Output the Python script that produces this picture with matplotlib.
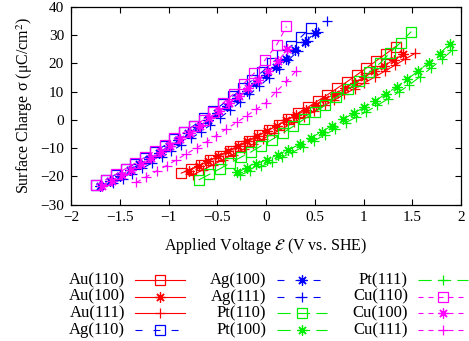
from matplotlib import pyplot as plt
import numpy as np

plt.rcParams['font.family'] = ['Liberation Serif', 'DejaVu Serif']
plt.rcParams['mathtext.fontset'] = 'stix'
plt.rcParams['lines.scale_dashes'] = False

# Applied voltage (V vs. SHE) and surface charge (uC/cm^2) per facet
au110_v = [-0.87, -0.77, -0.67, -0.57, -0.47, -0.37, -0.27, -0.17, -0.07, 0.03, 0.13, 0.23,
           0.33, 0.43, 0.53, 0.63, 0.73, 0.83, 0.93, 1.03, 1.13, 1.23, 1.33]
au110_q = [-18.9, -17.4, -15.9, -14.3, -12.7, -11.0, -9.2, -7.4, -5.5, -3.6, -1.7, 0.3,
           2.4, 4.5, 6.7, 8.9, 11.2, 13.5, 15.9, 18.4, 20.9, 23.4, 26.0]

au100_v = [-0.79, -0.69, -0.59, -0.49, -0.39, -0.29, -0.19, -0.09, 0.01, 0.11, 0.21, 0.31,
           0.41, 0.51, 0.61, 0.71, 0.81, 0.91, 1.01, 1.11, 1.21, 1.31, 1.41]
au100_q = [-18.0, -16.3, -14.6, -12.8, -11.1, -9.3, -7.5, -5.7, -3.9, -2.1, -0.2, 1.6,
           3.5, 5.4, 7.4, 9.3, 11.2, 13.2, 15.2, 17.2, 19.2, 21.2, 23.3]

au111_v = [-0.75, -0.65, -0.54, -0.44, -0.34, -0.23, -0.13, -0.03, 0.08, 0.18, 0.29, 0.39,
           0.49, 0.60, 0.70, 0.80, 0.91, 1.01, 1.12, 1.22, 1.32, 1.43, 1.53]
au111_q = [-19.5, -17.8, -15.9, -14.1, -12.3, -10.4, -8.6, -6.7, -4.7, -2.9, -0.8, 1.1,
           3.0, 5.1, 7.0, 9.0, 11.1, 13.1, 15.3, 17.3, 19.3, 21.6, 23.6]

ag110_v = [-1.74, -1.64, -1.54, -1.44, -1.34, -1.24, -1.14, -1.04, -0.94, -0.84, -0.74, -0.64,
           -0.54, -0.44, -0.34, -0.24, -0.14, -0.04, 0.06, 0.16, 0.26, 0.36, 0.46]
ag110_q = [-23.0, -21.2, -19.4, -17.5, -15.5, -13.4, -11.3, -9.1, -6.8, -4.4, -2.0, 0.5,
           3.1, 5.7, 8.4, 11.2, 14.1, 17.0, 20.0, 23.1, 26.2, 29.4, 32.7]

ag100_v = [-1.70, -1.60, -1.50, -1.40, -1.30, -1.20, -1.10, -1.00, -0.90, -0.80, -0.70, -0.60,
           -0.50, -0.40, -0.30, -0.20, -0.10, 0.00, 0.10, 0.20, 0.30, 0.40, 0.50]
ag100_q = [-23.5, -21.7, -19.8, -17.8, -15.8, -13.7, -11.6, -9.4, -7.1, -4.8, -2.4, 0.0,
           2.5, 5.0, 7.7, 10.3, 13.1, 15.9, 18.7, 21.6, 24.6, 27.6, 30.7]

ag111_v = [-1.57, -1.47, -1.37, -1.27, -1.17, -1.07, -0.97, -0.87, -0.77, -0.67, -0.57, -0.47,
           -0.37, -0.27, -0.17, -0.07, 0.03, 0.13, 0.23, 0.33, 0.43, 0.53, 0.63]
ag111_q = [-22.5, -20.8, -19.1, -17.2, -15.3, -13.3, -11.1, -8.9, -6.6, -4.3, -1.8, 0.8,
           3.4, 6.2, 9.0, 11.9, 14.9, 18.0, 21.2, 24.5, 27.9, 31.3, 34.9]

pt110_v = [-0.69, -0.58, -0.47, -0.37, -0.26, -0.15, -0.05, 0.06, 0.17, 0.28, 0.39,
           0.50, 0.61, 0.72, 0.84, 0.95, 1.06, 1.17, 1.27, 1.38, 1.49]
pt110_q = [-21.3, -19.3, -17.3, -15.3, -13.3, -11.3, -9.2, -7.0, -4.7, -2.3, 0.2,
           2.7, 5.3, 8.0, 10.8, 13.7, 16.8, 20.1, 23.7, 27.4, 31.3]

pt100_v = [-0.30, -0.20, -0.10, 0.01, 0.12, 0.23, 0.35, 0.46, 0.57, 0.68, 0.79,
           0.90, 1.01, 1.12, 1.23, 1.34, 1.45, 1.56, 1.67, 1.78, 1.89]
pt100_q = [-18.6, -17.1, -15.6, -14.1, -12.4, -10.6, -8.6, -6.4, -4.2, -2.0, 0.2,
           2.4, 4.5, 6.8, 9.2, 11.7, 14.4, 17.3, 20.3, 23.5, 27.0]

pt111_v = [-0.27, -0.16, -0.05, 0.06, 0.16, 0.27, 0.38, 0.49, 0.60, 0.71, 0.82,
           0.92, 1.03, 1.14, 1.25, 1.36, 1.47, 1.58, 1.69, 1.80, 1.91]
pt111_q = [-19.6, -18.1, -16.5, -14.9, -13.3, -11.5, -9.6, -7.5, -5.4, -3.2, -1.0,
           0.9, 2.9, 5.1, 7.4, 9.8, 12.4, 15.3, 18.3, 21.4, 24.6]

cu110_v = [-1.74, -1.64, -1.54, -1.44, -1.34, -1.24, -1.14, -1.04, -0.94, -0.84,
           -0.74, -0.64, -0.54, -0.44, -0.33, -0.23, -0.12, -0.01, 0.11, 0.21]
cu110_q = [-23.0, -21.2, -19.3, -17.3, -15.3, -13.2, -11.0, -8.8, -6.6, -4.4,
           -2.2, 0.0, 2.9, 6.0, 9.3, 12.8, 16.6, 21.2, 26.6, 33.1]

cu100_v = [-1.68, -1.58, -1.48, -1.38, -1.28, -1.18, -1.08, -0.98, -0.88, -0.78,
           -0.68, -0.58, -0.48, -0.38, -0.28, -0.18, -0.08, 0.02, 0.12, 0.22]
cu100_q = [-23.4, -21.6, -19.7, -17.8, -15.7, -13.6, -11.4, -9.2, -6.9, -4.5,
           -2.0, 0.5, 3.2, 5.8, 8.6, 11.4, 14.3, 17.3, 20.7, 25.0]

cu111_v = [-1.33, -1.23, -1.12, -1.02, -0.92, -0.82, -0.71, -0.61, -0.51, -0.41,
           -0.30, -0.20, -0.10, 0.00, 0.10, 0.21, 0.31]
cu111_q = [-22.2, -20.2, -18.1, -16.2, -14.2, -12.1, -9.9, -7.8, -5.6, -3.3,
           -0.9, 1.4, 3.7, 6.1, 9.8, 13.6, 17.4]

x_ticks = [-2, -1.5, -1, -0.5, 0, 0.5, 1, 1.5, 2]
x_ticklabels = ['\u22122', '\u22121.5', '\u22121', '\u22120.5', '0', '0.5', '1', '1.5', '2']
y_ticks = [-30, -20, -10, 0, 10, 20, 30, 40]
y_ticklabels = ['\u221230', '\u221220', '\u221210', '0', '10', '20', '30', '40']

# Style config
COLORS = {'Au': '#ff0000', 'Ag': '#0000ff', 'Pt': '#00ee00', 'Cu': '#ff00ff'}
DASHES = {'Au': '-', 'Ag': (0, (5, 8)), 'Pt': (0, (9.5, 4.5)), 'Cu': (0, (3.6, 3.6))}
MARKERS = {'110': 's', '100': (8, 2, 0), '111': '+'}

series = [
    ('Au(110)', au110_v, au110_q), ('Au(100)', au100_v, au100_q), ('Au(111)', au111_v, au111_q),
    ('Ag(110)', ag110_v, ag110_q), ('Ag(100)', ag100_v, ag100_q), ('Ag(111)', ag111_v, ag111_q),
    ('Pt(110)', pt110_v, pt110_q), ('Pt(100)', pt100_v, pt100_q), ('Pt(111)', pt111_v, pt111_q),
    ('Cu(110)', cu110_v, cu110_q), ('Cu(100)', cu100_v, cu100_q), ('Cu(111)', cu111_v, cu111_q),
]


def style(name):
    metal, facet = name[:2], name[3:6]
    return dict(color=COLORS[metal], linestyle=DASHES[metal], linewidth=0.8,
                marker=MARKERS[facet], markersize=7.2, markerfacecolor='none',
                markeredgewidth=0.9)


fig = plt.figure(figsize=(4.69, 3.41), dpi=100)
ax = fig.add_axes([71 / 469, 1 - 204.5 / 341, 390 / 469, 197.5 / 341])

for name, v, q in series:
    ax.plot(v, q, **style(name))

ax.set_xlim(-2, 2)
ax.set_ylim(-30, 40)
ax.set_xticks(x_ticks)
ax.set_xticklabels(x_ticklabels)
ax.set_yticks(y_ticks)
ax.set_yticklabels(y_ticklabels)
ax.tick_params(direction='in', top=True, right=True, length=4, width=0.8,
               labelsize=11, pad=5)
for s in ax.spines.values():
    s.set_linewidth(0.9)
ax.set_xlabel(r'Applied Voltage $\mathcal{E}$ (V vs. SHE)', fontsize=11.5, labelpad=8)
ax.set_ylabel(r'Surface Charge $\mathregular{\sigma}$ ($\mathregular{\mu}$C/cm$^2$)',
              fontsize=11.5, labelpad=4)

# gnuplot-style key: label right aligned, sample to its right
lax = fig.add_axes([0, 0, 1, 1])
lax.set_xlim(0, 469)
lax.set_ylim(341, 0)
lax.axis('off')
col_label_x = [125, 266.5, 408]
row_y = [280, 296.7, 313.3, 330]
for i, (name, v, q) in enumerate(series):
    col, row = divmod(i, 4)
    xl = col_label_x[col]
    y = row_y[row]
    st = style(name)
    lax.text(xl, y, name, ha='right', va='center', fontsize=12)
    lax.plot([xl + 10, xl + 60], [y, y], color=st['color'], linestyle=st['linestyle'],
             linewidth=st['linewidth'])
    mst = {k: st[k] for k in ('color', 'marker', 'markersize', 'markerfacecolor', 'markeredgewidth')}
    lax.plot([xl + 35], [y], linestyle='none', **mst)

fig.savefig('out.png', dpi=100)
